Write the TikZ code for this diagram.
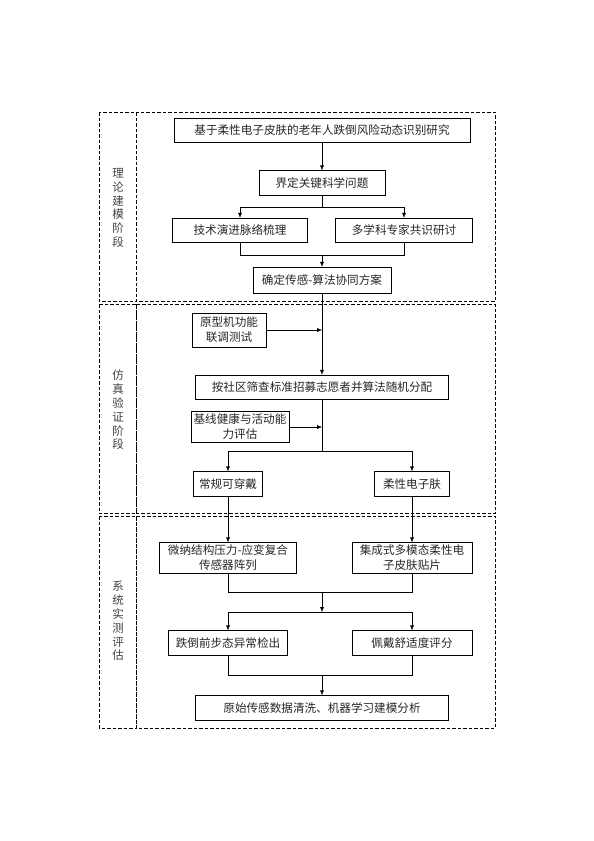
\documentclass[tikz,border=0pt]{standalone}
\usepackage{fontspec}
\setmainfont{Noto Sans CJK SC}
\usetikzlibrary{arrows.meta}

\begin{document}
\begin{tikzpicture}[
  x=1pt, y=-1pt,
  box/.style={
    draw,
    align=center,
    inner sep=0pt,
    text=black!85,
    font=\fontsize{11.6}{15}\selectfont
  },
  stage/.style={
    align=center,
    inner sep=0pt,
    text=black!75,
    font=\fontsize{11.5}{13.8}\selectfont
  },
  frame/.style={draw, dashed, dash pattern=on 3.5pt off 2pt},
  >={Latex[length=5pt,width=4pt]}
]
\useasboundingbox (0,0) rectangle (594,841);

% stage frames
\draw[frame] (99,112) rectangle (136,301.5);
\draw[frame] (136,112) rectangle (495,301.5);
\draw[frame] (99,304) rectangle (136,513.5);
\draw[frame] (136,304) rectangle (495,513.5);
\draw[frame] (99,516) rectangle (136,728);
\draw[frame] (136,516) rectangle (495,728);

\node[stage] (theory) at (118,208) {理\\论\\建\\模\\阶\\段};
\node[stage] (simu) at (118,410) {仿\\真\\验\\证\\阶\\段};
\node[stage] (field) at (118,621) {系\\统\\实\\测\\评\\估};

% theory stage
\node[box, minimum width=296pt, minimum height=24pt] at (322,130) (title) {基于柔性电子皮肤的老年人跌倒风险动态识别研究};
\node[box, minimum width=126pt, minimum height=25pt] at (322,183) (issue) {界定关键科学问题};
\node[box, minimum width=135pt, minimum height=24pt] at (240,230) (trace) {技术演进脉络梳理};
\node[box, minimum width=137pt, minimum height=24pt] at (404,230) (expert) {多学科专家共识研讨};
\node[box, minimum width=138pt, minimum height=26pt] at (322,280) (plan) {确定传感-算法协同方案};

% simulation stage
\node[box, minimum width=74pt, minimum height=34pt] at (229,330) (proto) {原型机功能\\联调测试};
\node[box, minimum width=253pt, minimum height=24pt] at (322,387) (recruit) {按社区筛查标准招募志愿者并算法随机分配};
\node[box, minimum width=98pt, minimum height=31pt] at (240,427) (base) {基线健康与活动能\\力评估};
\node[box, minimum width=69pt, minimum height=25pt] at (228,484) (wear) {常规可穿戴};
\node[box, minimum width=75pt, minimum height=25pt] at (412,484) (skin) {柔性电子肤};

% field stage
\node[box, minimum width=137pt, minimum height=31pt] at (228,558) (sensor) {微纳结构压力-应变复合\\传感器阵列};
\node[box, minimum width=120pt, minimum height=31pt] at (412,558) (patch) {集成式多模态柔性电\\子皮肤贴片};
\node[box, minimum width=119pt, minimum height=25pt] at (228,643) (gait) {跌倒前步态异常检出};
\node[box, minimum width=120pt, minimum height=25pt] at (412,643) (comfort) {佩戴舒适度评分};
\node[box, minimum width=253pt, minimum height=25pt] at (322,708) (model) {原始传感数据清洗、机器学习建模分析};

\coordinate (split1) at (322,207);
\coordinate (join1) at (322,255);
\coordinate (split2) at (322,451);
\coordinate (join2) at (322,592);
\coordinate (split3) at (322,612);
\coordinate (join3) at (322,675);

\draw[->] (title) -- (issue);
\draw (issue) -- (split1);
\draw[->] (split1) -| (trace);
\draw[->] (split1) -| (expert);
\draw (trace) |- (join1);
\draw (expert) |- (join1);
\draw[->] (join1) -- (plan);

\draw[->] (plan) -- (recruit);
\draw[->] (proto) -- (proto -| plan);
\draw (recruit) -- (split2);
\draw[->] (base.east) -- (base.east -| recruit);
\draw[->] (split2) -| (wear);
\draw[->] (split2) -| (skin);

\draw[->] (wear) -- (sensor);
\draw[->] (skin) -- (patch);
\draw (sensor) |- (join2);
\draw (patch) |- (join2);
\draw[->] (join2) -- (split3);
\draw[->] (split3) -| (gait);
\draw[->] (split3) -| (comfort);
\draw (gait) |- (join3);
\draw (comfort) |- (join3);
\draw[->] (join3) -- (model);
\end{tikzpicture}
\end{document}
